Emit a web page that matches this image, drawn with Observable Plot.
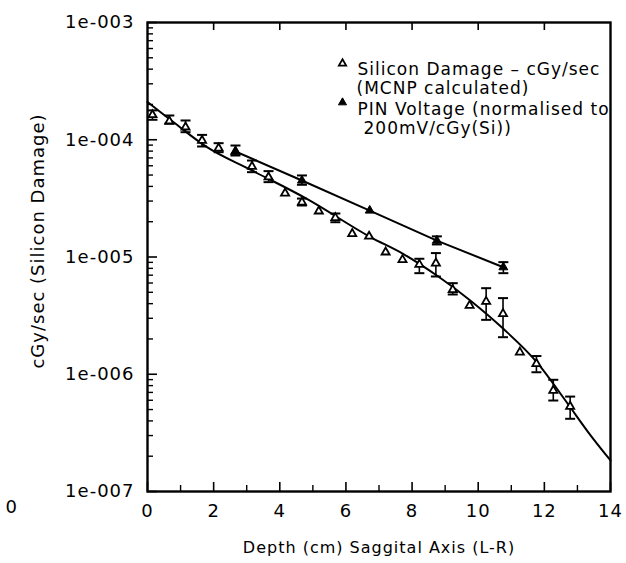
<!DOCTYPE html>
<html><head><meta charset="utf-8">
<script src="https://cdn.jsdelivr.net/npm/d3@7"></script>
<script src="https://cdn.jsdelivr.net/npm/@observablehq/plot@0.6"></script>
<style>
html,body{margin:0;padding:0;background:#fff}
svg text{letter-spacing:1px}
</style></head><body><div id="chart"></div>
<script>
// Silicon damage (MCNP calculated) – open triangles
const openX  = [0.15,0.66,1.15,1.65,2.15,2.66,3.16,3.66,4.16,4.67,5.18,5.68,6.19,6.70,7.20,7.71,8.22,8.72,9.23,9.74,10.24,10.75,11.26,11.76,12.27,12.78];
const openY  = [1.63e-4,1.44e-4,1.28e-4,9.86e-5,8.47e-5,7.94e-5,5.92e-5,4.80e-5,3.50e-5,2.93e-5,2.46e-5,2.16e-5,1.58e-5,1.50e-5,1.10e-5,9.46e-6,8.63e-6,8.85e-6,5.25e-6,3.86e-6,4.17e-6,3.28e-6,1.54e-6,1.23e-6,7.27e-7,5.31e-7];
const openHi = [1.78e-4,1.61e-4,1.46e-4,1.10e-4,9.35e-5,null,6.65e-5,5.40e-5,null,3.15e-5,null,2.35e-5,null,null,null,null,9.66e-6,1.08e-5,5.98e-6,null,5.42e-6,4.46e-6,null,1.43e-6,8.97e-7,6.45e-7];
const openLo = [1.48e-4,1.37e-4,1.16e-4,8.76e-5,7.83e-5,null,5.29e-5,4.35e-5,null,2.75e-5,null,1.98e-5,null,null,null,null,7.28e-6,6.82e-6,4.79e-6,null,2.91e-6,2.07e-6,null,1.04e-6,5.97e-7,4.17e-7];

// PIN voltage (normalised) – filled triangles
const pinX  = [2.66,4.67,6.72,8.75,10.76];
const pinY  = [7.94e-5,4.49e-5,2.49e-5,1.38e-5,8.18e-6];
const pinHi = [8.93e-5,4.96e-5,null,1.50e-5,9.04e-6];
const pinLo = [7.34e-5,4.13e-5,null,1.28e-5,7.28e-6];

// calculated curve
const curveX = [0,0.79,1.80,3.16,4.82,6.74,7.74,8.75,9.76,10.76,11.77,12.68,13.38,14];
const curveY = [2.1e-4,1.41e-4,8.64e-5,5.47e-5,3.13e-5,1.48e-5,1.06e-5,6.95e-6,4.26e-6,2.44e-6,1.27e-6,5.74e-7,3.06e-7,1.84e-7];

// axes
const xTicks = [0,2,4,6,8,10,12,14];
const xMinorTicks = [1,3,5,7,9,11,13];
const xTopTicks = [2,4,6,8,10,12];
const yTicks = [1e-7,1e-6,1e-5,1e-4,1e-3];
const yTickLabels = ["1e-007","1e-006","1e-005","1e-004","1e-003"];
const yMinorTicks = [-7,-6,-5,-4].flatMap(e => [2,3,4,5,6,7,8,9].map(m => m * Math.pow(10, e)));
const xTitle = "Depth (cm) Saggital Axis (L-R)";
const yTitle = "cGy/sec (Silicon Damage)";
const legendText = ["Silicon Damage – cGy/sec","(MCNP calculated)","PIN Voltage (normalised to","200mV/cGy(Si))"];
const strayText = "0";

const W = 626, H = 563, mL = 147, mR = 16, mT = 22, mB = 72;
const fw = W - mL - mR, fh = H - mT - mB;

const openData = openX.map((x,i) => ({x, y: openY[i], lo: openLo[i], hi: openHi[i]}));
const pinData = pinX.map((x,i) => ({x, y: pinY[i], lo: pinLo[i], hi: pinHi[i]}));
const curveData = curveX.map((x,i) => ({x, y: curveY[i]}));
const bars = [...openData, ...pinData].filter(d => d.lo != null);
const cap = {draw(ctx, size){ const w = Math.sqrt(size/Math.PI); ctx.moveTo(-w,0); ctx.lineTo(w,0); }};

const font = "'DejaVu Sans', sans-serif";
const legendDx = [210,209,210,216];
const legendDy = [40,59,80,99];

const chart = Plot.plot({
  width: W, height: H,
  marginLeft: mL, marginRight: mR, marginTop: mT, marginBottom: mB,
  style: {fontFamily: font, fontSize: "18px", color: "#000", background: "#fff"},
  x: {domain: [0,14]},
  y: {type: "log", domain: [1e-7,1e-3]},
  marks: [
    Plot.axisX(xTicks, {tickSize: 0, tickPadding: 13, fontSize: 18, label: null, tickFormat: d => String(d)}),
    Plot.axisY(yTicks, {tickSize: 0, tickPadding: 13, fontSize: 18, label: null, tickFormat: d => yTickLabels[yTicks.indexOf(d)]}),
    Plot.tickY(yTicks, {y: d => d, insetRight: fw - 10, strokeWidth: 1.6}),
    Plot.tickY(yMinorTicks, {y: d => d, insetRight: fw - 6, strokeWidth: 1.4}),
    Plot.tickX(xTicks, {x: d => d, insetTop: fh - 9, strokeWidth: 1.6}),
    Plot.tickX(xMinorTicks, {x: d => d, insetTop: fh - 6, strokeWidth: 1.4}),
    Plot.tickX(xTopTicks, {x: d => d, insetBottom: fh - 8, strokeWidth: 1.6}),
    Plot.frame({strokeWidth: 2.4}),
    Plot.line(curveData, {x: "x", y: "y", curve: "monotone-x", strokeWidth: 2}),
    Plot.line(pinData, {x: "x", y: "y", strokeWidth: 2}),
    Plot.ruleX(bars, {x: "x", y1: "lo", y2: "hi", strokeWidth: 1.6}),
    Plot.dot(bars, {x: "x", y: "lo", symbol: cap, r: 5, stroke: "black", strokeWidth: 2}),
    Plot.dot(bars, {x: "x", y: "hi", symbol: cap, r: 5, stroke: "black", strokeWidth: 2}),
    Plot.dot(openData, {x: "x", y: "y", symbol: "triangle", r: 3, fill: "white", stroke: "black", strokeWidth: 1.8}),
    Plot.dot(pinData, {x: "x", y: "y", symbol: "triangle", r: 3.3, fill: "black", stroke: "black", strokeWidth: 1}),
    Plot.text([xTitle], {frameAnchor: "bottom", dy: 61, text: d => d, fontSize: 16}),
    Plot.text([yTitle], {frameAnchor: "left", dx: -109, dy: -16, rotate: -90, textAnchor: "middle", text: d => d, fontSize: 18}),
    Plot.text([strayText], {frameAnchor: "bottom-left", dx: -142, dy: 21, text: d => d, fontSize: 18}),
    ...legendText.map((t,i) => Plot.text([t], {frameAnchor: "top-left", dx: legendDx[i], dy: legendDy[i], text: d => d, textAnchor: "start", fontSize: 17, style: "letter-spacing:0.8px"})),
    Plot.dot([0], {frameAnchor: "top-left", dx: 195, dy: 41, symbol: "triangle", r: 2.7, fill: "white", stroke: "black", strokeWidth: 1.8}),
    Plot.dot([0], {frameAnchor: "top-left", dx: 195, dy: 80, symbol: "triangle", r: 3, fill: "black", stroke: "black", strokeWidth: 1})
  ]
});
document.getElementById("chart").appendChild(chart);
</script></body></html>
